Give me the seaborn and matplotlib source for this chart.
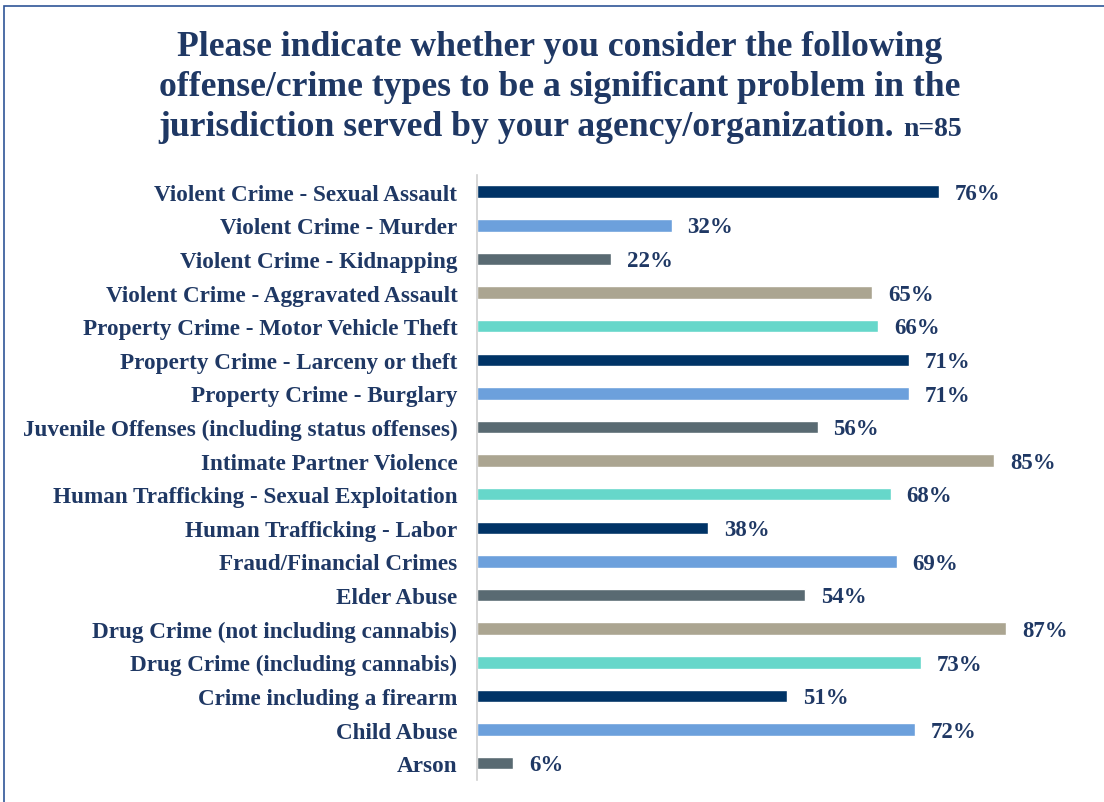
import pandas as pd
import matplotlib.pyplot as plt
import seaborn as sns
from matplotlib.patches import Rectangle

crimes = [
    'Violent Crime - Sexual Assault',
    'Violent Crime - Murder',
    'Violent Crime - Kidnapping',
    'Violent Crime - Aggravated Assault',
    'Property Crime - Motor Vehicle Theft',
    'Property Crime - Larceny or theft',
    'Property Crime - Burglary',
    'Juvenile Offenses (including status offenses)',
    'Intimate Partner Violence',
    'Human Trafficking - Sexual Exploitation',
    'Human Trafficking - Labor',
    'Fraud/Financial Crimes',
    'Elder Abuse',
    'Drug Crime (not including cannabis)',
    'Drug Crime (including cannabis)',
    'Crime including a firearm',
    'Child Abuse',
    'Arson',
]
pct = [76, 32, 22, 65, 66, 71, 71, 56, 85, 68, 38, 69, 54, 87, 73, 51, 72, 6]

base_colors = ['#003366', '#6CA0DC', '#596A72', '#ABA591', '#66D7CA']
colors = [base_colors[i % 5] for i in range(len(crimes))]
text_color = '#1F3864'

sns.set_style('white')
plt.rcParams['font.family'] = ['Liberation Serif', 'DejaVu Serif']

df = pd.DataFrame({'crime': crimes, 'pct': pct})

fig = plt.figure(figsize=(11.04, 8.03), dpi=100)
ax = fig.add_axes([0.432, 0.0274, 0.551, 0.7536])
sns.barplot(data=df, y='crime', x='pct', hue='crime', palette=colors,
            order=crimes, legend=False, width=0.37, ax=ax, saturation=1)

ax.set_xlim(0, 100)
ax.set_ylim(len(crimes) - 0.5, -0.5)
ax.set_xlabel('')
ax.set_ylabel('')
ax.set_xticks([])
for s in ['top', 'right', 'bottom']:
    ax.spines[s].set_visible(False)
ax.spines['left'].set_color('#D0D0D0')
ax.spines['left'].set_linewidth(1.2)
ax.tick_params(axis='y', length=0, pad=14)
for lab in ax.get_yticklabels():
    lab.set_fontsize(16.7)
    lab.set_fontweight('bold')
    lab.set_color(text_color)

for i, v in enumerate(pct):
    ax.text(v + 2.6, i + 0.05, f'{v}%', va='center', ha='left', fontsize=16.5,
            fontweight='bold', color=text_color)

title_kw = dict(va='center', fontsize=25.7, fontweight='bold', color=text_color)
cx = 560 / 1104
fig.text(cx, 0.941, 'Please indicate whether you consider the following', ha='center', **title_kw)
fig.text(cx, 0.891, 'offense/crime types to be a significant problem in the', ha='center', **title_kw)
t = fig.text(0, 0.841, 'jurisdiction served by your agency/organization.', ha='left', **title_kw)
n = fig.text(0, 0.839, 'n=85', ha='left', va='center', fontsize=20, fontweight='bold',
             color=text_color)
fig.canvas.draw()
inv = fig.transFigure.inverted()
w1 = t.get_window_extent().transformed(inv).width
w2 = n.get_window_extent().transformed(inv).width
gap = 10 / 1104
x0 = cx - (w1 + gap + w2) / 2
t.set_x(x0)
n.set_x(x0 + w1 + gap)

fig.patches.append(Rectangle((0.004, -0.05), 1.2, 1.041, transform=fig.transFigure,
                             fill=False, edgecolor='#2F5597', linewidth=1.2))

plt.savefig('out.png', dpi=100)
